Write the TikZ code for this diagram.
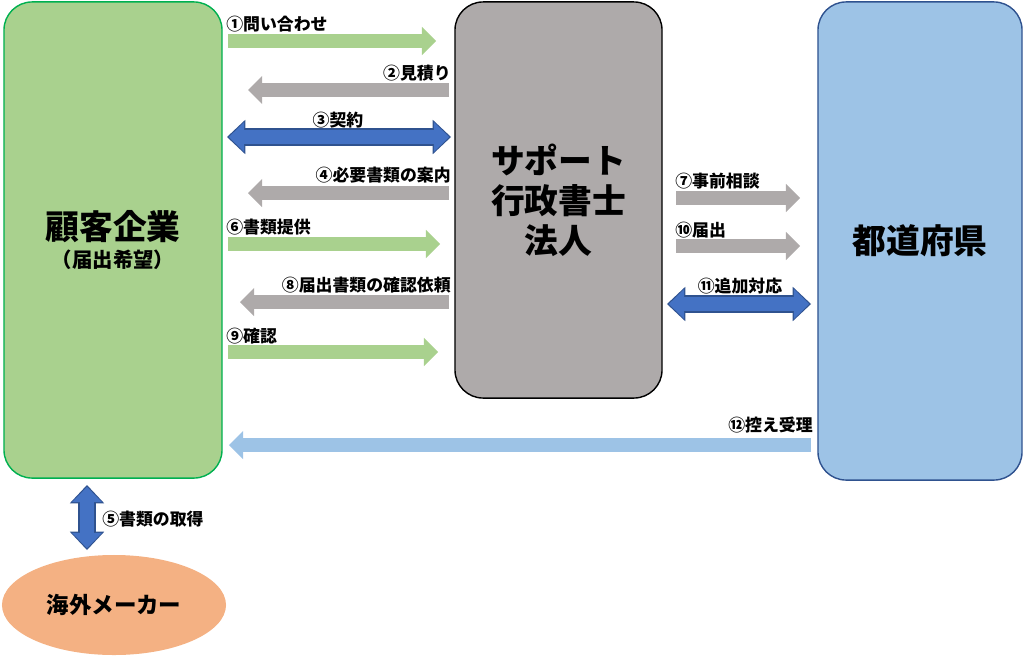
\documentclass[tikz,border=0pt]{standalone}
\usepackage{fontspec}
\setmainfont{Noto Sans CJK JP}
\usetikzlibrary{arrows.meta,shapes.geometric,positioning}

\definecolor{leafgreen}{RGB}{169,209,142}
\definecolor{leafedge}{RGB}{0,176,80}
\definecolor{stone}{RGB}{174,170,170}
\definecolor{sky}{RGB}{157,195,230}
\definecolor{skyedge}{RGB}{47,82,143}
\definecolor{royal}{RGB}{68,114,196}
\definecolor{peach}{RGB}{244,177,131}

\tikzset{
  box/.style={draw, line width=1pt, rounded corners=20pt, align=center, inner sep=0pt,
    font=\bfseries\fontsize{24}{28.5}\selectfont},
  lbl/.style={font=\bfseries\fontsize{12}{14}\selectfont, inner sep=0pt},
  fat/.style={line width=10pt, -{Triangle[length=10pt,width=20pt,line width=0pt]}},
  twinedge/.style={skyedge, line width=12.5pt,
    {Triangle[length=13pt,width=24.5pt,line width=0pt]}-{Triangle[length=13pt,width=24.5pt,line width=0pt]}},
  twinfill/.style={royal, line width=10.5pt, shorten >=1.4pt, shorten <=1.4pt,
    {Triangle[length=10.8pt,width=21.5pt,line width=0pt]}-{Triangle[length=10.8pt,width=21.5pt,line width=0pt]}}
}

\begin{document}
\begin{tikzpicture}[x=0.025cm,y=-0.025cm]
      \useasboundingbox (0,0) rectangle (1024,658);
      % the three parties and the maker
      \node (client) [box, draw=leafedge, fill=leafgreen, minimum width=5.45cm, minimum height=11.9cm] at (113,240)
        {顧客企業\\[-8pt]{\fontsize{14.5}{17}\selectfont （届出希望）}};
      \node (office) [box, draw=black, fill=stone, minimum width=5.175cm, minimum height=9.9cm] at (558.5,200)
        {サポート\\行政書士\\法人};
      \node (pref) [box, draw=skyedge, fill=sky, minimum width=5.1cm, minimum height=11.95cm] at (920,241) {都道府県};
      \node (maker) [ellipse, fill=peach, minimum width=5.6cm, minimum height=2.5cm, inner sep=0pt,
        font=\bfseries\fontsize{16}{19}\selectfont] at (114,605) {海外メーカー};

      % client <-> office
      \coordinate (a1) at (228,41);  \coordinate (b1) at (436,41);
      \coordinate (a2) at (449,90);  \coordinate (b2) at (248,90);
      \coordinate (a3) at (227,137); \coordinate (b3) at (451,137);
      \coordinate (a4) at (449,193); \coordinate (b4) at (248,193);
      \coordinate (a6) at (228,244); \coordinate (b6) at (440,244);
      \coordinate (a8) at (449,302); \coordinate (b8) at (240,302);
      \coordinate (a9) at (228,352); \coordinate (b9) at (438,352);
      \draw [fat, leafgreen] (a1) -- (b1);
      \draw [fat, stone] (a2) -- (b2);
      \draw [twinedge] (a3) -- (b3);
      \draw [twinfill] (a3) -- (b3);
      \draw [fat, stone] (a4) -- (b4);
      \draw [fat, leafgreen] (a6) -- (b6);
      \draw [fat, stone] (a8) -- (b8);
      \draw [fat, leafgreen] (a9) -- (b9);
      \node [lbl, anchor=west] (l1) at (226,24) {①問い合わせ};
      \node [lbl, anchor=east] (l2) at (451,73) {②見積り};
      \node [lbl] (l3) at (338,120) {③契約};
      \node [lbl, anchor=east] (l4) at (451,175) {④必要書類の案内};
      \node [lbl, anchor=west] (l6) at (226,227) {⑥書類提供};
      \node [lbl, anchor=east] (l8) at (451,285) {⑧届出書類の確認依頼};
      \node [lbl, anchor=west] (l9) at (226,336) {⑨確認};

      % office <-> prefecture
      \coordinate (a7) at (676,198);  \coordinate (b7) at (800,198);
      \coordinate (a10) at (676,246); \coordinate (b10) at (800,246);
      \coordinate (a11) at (667,304); \coordinate (b11) at (811,304);
      \draw [fat, stone] (a7) -- (b7);
      \draw [fat, stone] (a10) -- (b10);
      \draw [twinedge] (a11) -- (b11);
      \draw [twinfill] (a11) -- (b11);
      \node [lbl, anchor=west] (l7) at (675,181) {⑦事前相談};
      \node [lbl, anchor=west] (l10) at (675,230) {⑩届出};
      \node [lbl] (l11) at (740,286) {⑪追加対応};

      % prefecture -> client
      \coordinate (a12) at (811,445); \coordinate (b12) at (229,445);
      \draw [fat, sky] (a12) -- (b12);
      \node [lbl, anchor=east] (l12) at (813,425) {⑫控え受理};

      % client <-> maker
      \coordinate (a5) at (87,485); \coordinate (b5) at (87,550);
      \draw [twinedge] (a5) -- (b5);
      \draw [twinfill] (a5) -- (b5);
      \node [lbl, anchor=west] (l5) at (102,519) {⑤書類の取得};
    \end{tikzpicture}
\end{document}
